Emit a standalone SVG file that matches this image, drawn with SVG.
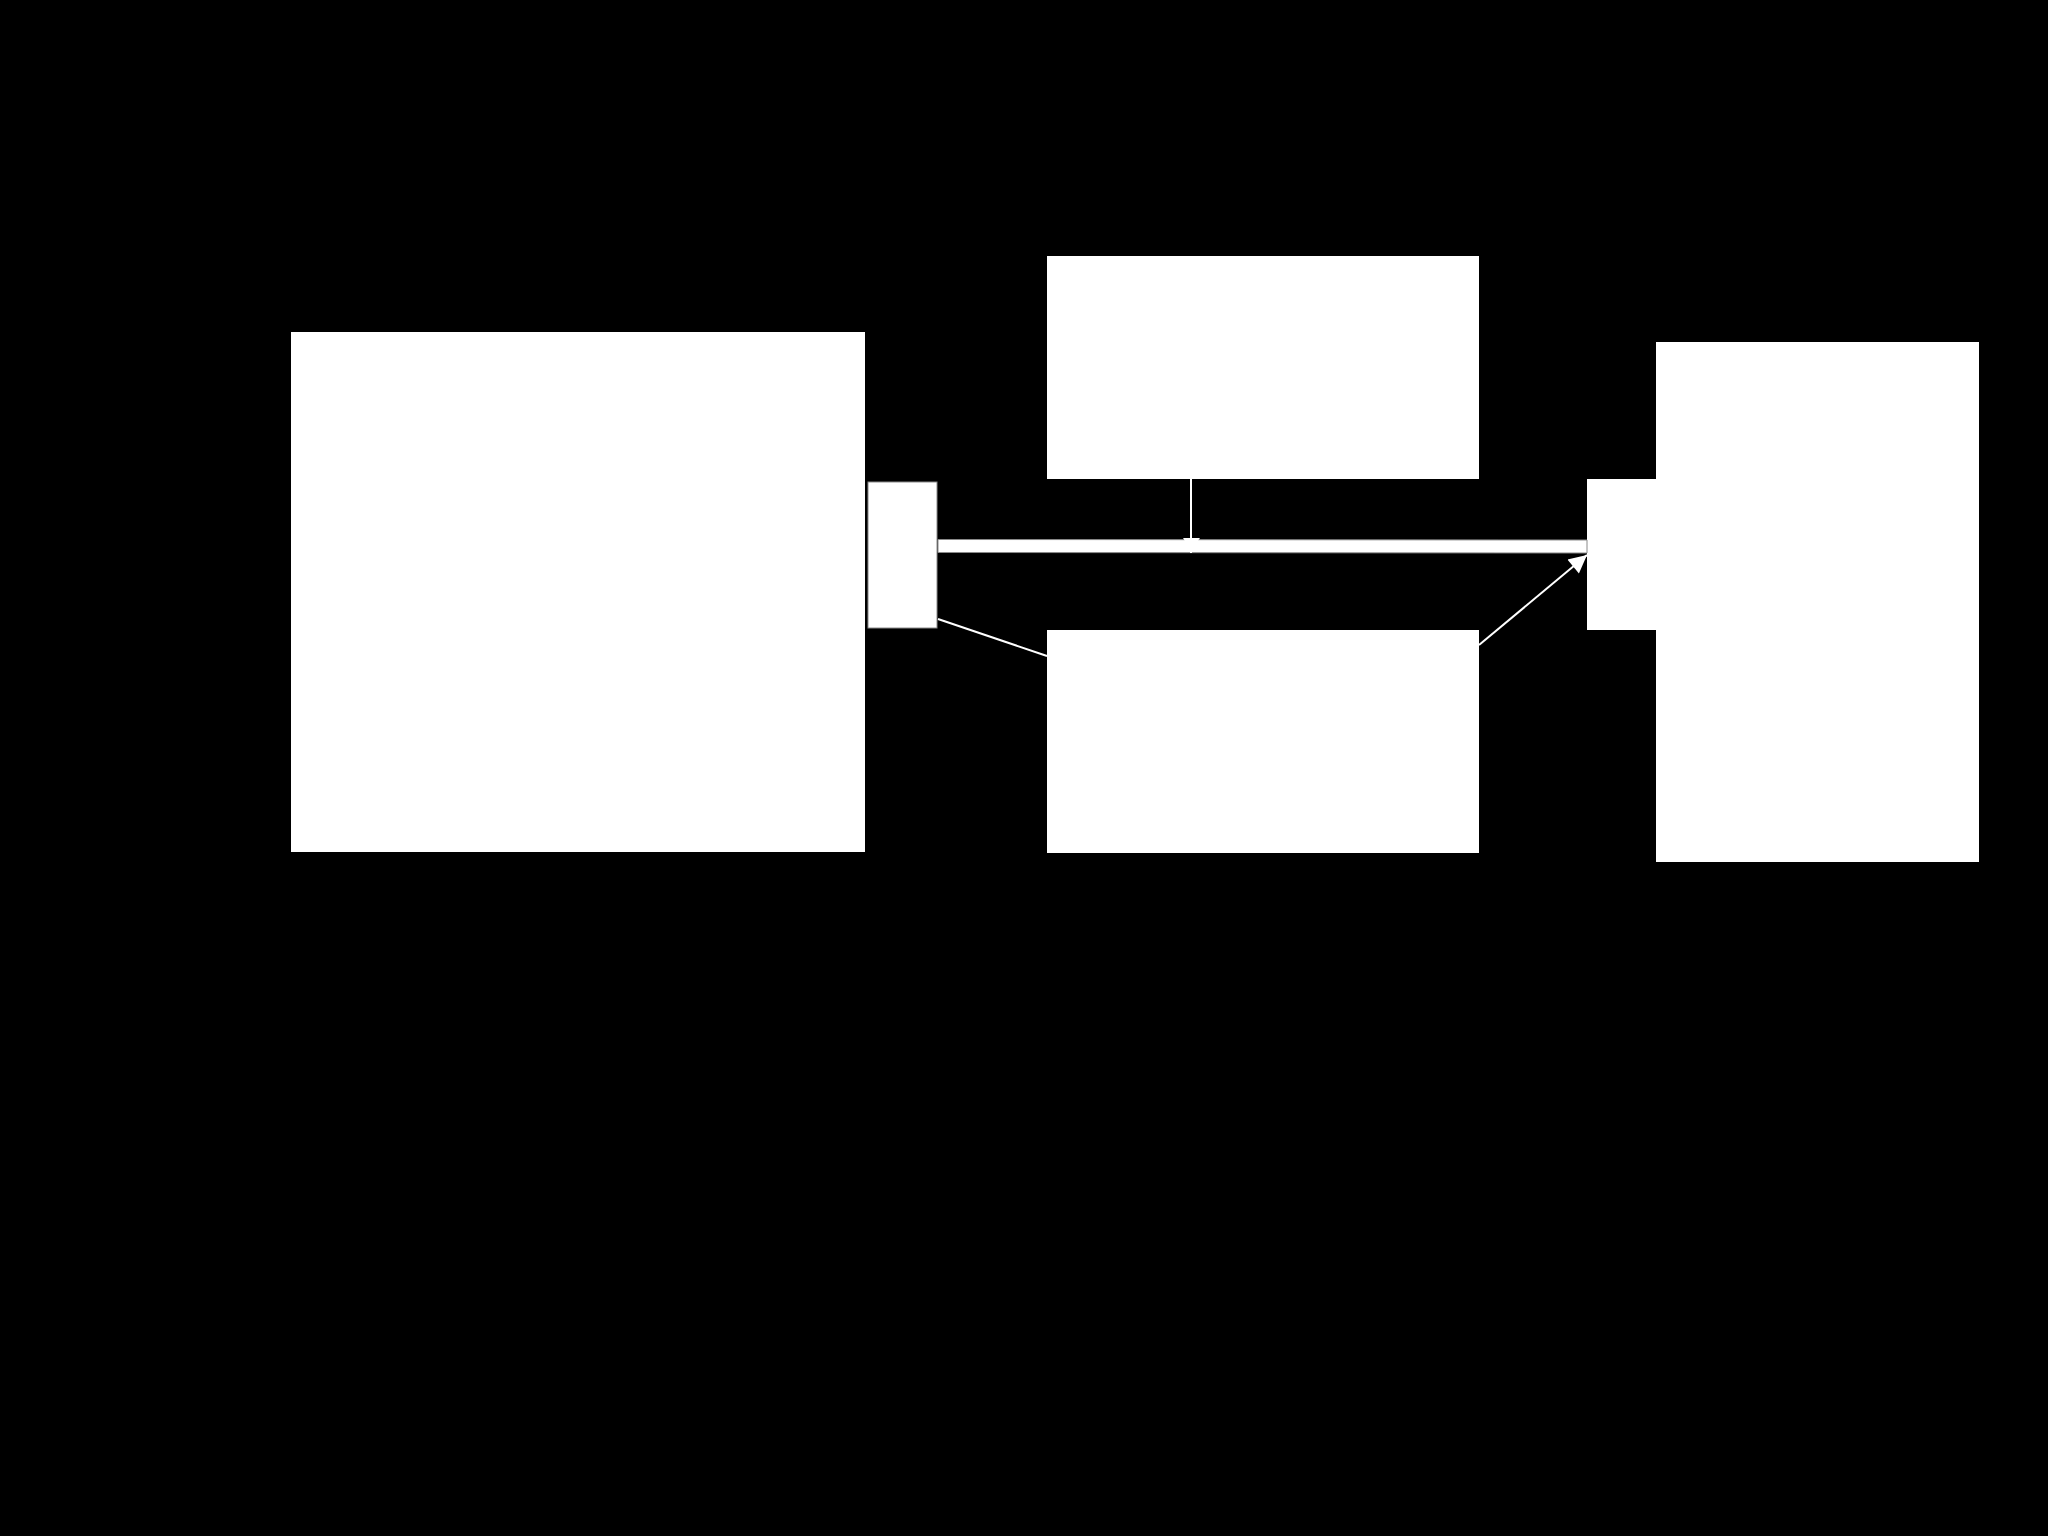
<svg xmlns="http://www.w3.org/2000/svg" width="2048" height="1536" viewBox="0 0 2048 1536">
<style>
.node{fill:#ffffff;stroke:none}
.port{fill:#ffffff;stroke:#8a8a8a;stroke-width:1}
.edge{stroke:#ffffff;fill:none;stroke-width:2}
.bar{fill:#ffffff;stroke:#8a8a8a;stroke-width:1}
</style>
<defs>
<marker id="arrL" viewBox="0 0 10 10" refX="10" refY="5" markerWidth="23" markerHeight="18" markerUnits="userSpaceOnUse" orient="auto">
<path d="M0,0 L10,5 L0,10 z" fill="#ffffff"/>
</marker>
</defs>
<rect x="0" y="0" width="2048" height="1536" fill="#000000"/>
<g id="left-box"><rect class="node" x="291" y="332" width="574" height="520"/></g>
<g id="left-port"><rect class="port" x="868" y="482" width="69" height="146"/></g>
<g id="top-box"><rect class="node" x="1047" y="256" width="432" height="223"/></g>
<g id="bottom-box"><rect class="node" x="1047" y="630" width="432" height="223"/></g>
<g id="right-port"><rect class="node" x="1587" y="479" width="70" height="151"/></g>
<g id="right-box"><rect class="node" x="1656" y="342" width="323" height="520"/></g>
<g id="connectors">
<path class="bar" d="M938,539.5 L1587,540 L1587,553 L938,552.5 z"/>
<line class="edge" x1="1191" y1="479" x2="1191" y2="553"/>
<path d="M1183,538 L1200,538 L1191,550 z" fill="#ffffff"/>
<line class="edge" x1="938" y1="619" x2="1047" y2="656"/>
<line class="edge" x1="1479" y1="645" x2="1587" y2="555" marker-end="url(#arrL)"/>
</g>
</svg>
